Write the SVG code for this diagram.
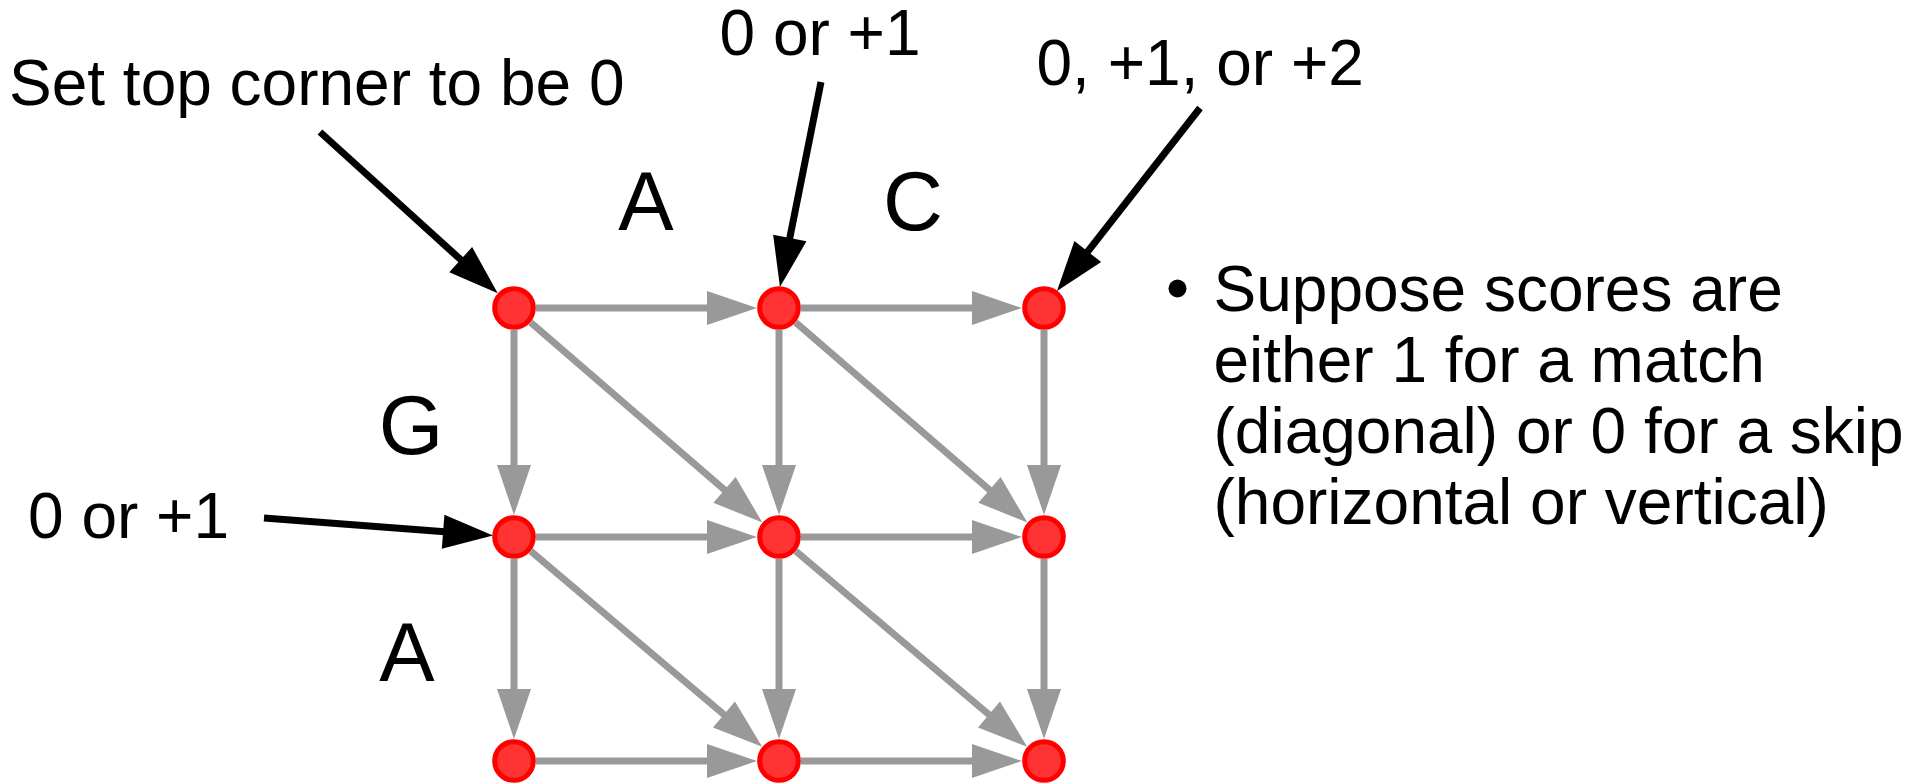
<svg xmlns="http://www.w3.org/2000/svg" width="1925" height="783" viewBox="0 0 1925 783">
<style>
.t{font-family:"Liberation Sans",Arial,sans-serif;font-size:64px;fill:#000}
.big{font-family:"Liberation Sans",Arial,sans-serif;font-size:83px;fill:#000;text-anchor:middle}
.e{stroke:#999999;stroke-width:7;fill:none;marker-end:url(#ga)}
.b{stroke:#000;stroke-width:7;fill:none;marker-end:url(#ba)}
.n{fill:#ff3333;stroke:#ff0000;stroke-width:5}
</style>
<defs>
<marker id="ga" markerUnits="userSpaceOnUse" markerWidth="50" markerHeight="34" refX="5" refY="17" orient="auto" overflow="visible">
<path d="M0,0 L50,17 L0,34 z" fill="#999999"/>
</marker>
<marker id="ba" markerUnits="userSpaceOnUse" markerWidth="50" markerHeight="34" refX="5" refY="17" orient="auto" overflow="visible">
<path d="M0,0 L50,17 L0,34 z" fill="#000"/>
</marker>
</defs>
<rect width="1925" height="783" fill="#fff"/>
<g id="connectors">
<line class="e" x1="536" y1="308" x2="712" y2="308"/>
<line class="e" x1="801" y1="308" x2="977" y2="308"/>
<line class="e" x1="536" y1="537" x2="712" y2="537"/>
<line class="e" x1="801" y1="537" x2="977" y2="537"/>
<line class="e" x1="536" y1="761" x2="712" y2="761"/>
<line class="e" x1="801" y1="761" x2="977" y2="761"/>
<line class="e" x1="514" y1="330" x2="514" y2="470"/>
<line class="e" x1="779" y1="330" x2="779" y2="470"/>
<line class="e" x1="1044" y1="330" x2="1044" y2="470"/>
<line class="e" x1="514" y1="559" x2="514" y2="694"/>
<line class="e" x1="779" y1="559" x2="779" y2="694"/>
<line class="e" x1="1044" y1="559" x2="1044" y2="694"/>
<line class="e" x1="530.6" y1="322.4" x2="728.3" y2="493.2"/>
<line class="e" x1="795.6" y1="322.4" x2="993.3" y2="493.2"/>
<line class="e" x1="530.8" y1="551.2" x2="727.8" y2="717.8"/>
<line class="e" x1="795.8" y1="551.2" x2="992.8" y2="717.8"/>
<line class="b" x1="320" y1="132" x2="464.4" y2="263"/>
<line class="b" x1="821" y1="82" x2="788.8" y2="242.9"/>
<line class="b" x1="1200" y1="108" x2="1084.7" y2="255.5"/>
<line class="b" x1="264" y1="518" x2="448.1" y2="532.1"/>
</g>
<g id="nodes">
<g id="n00"><circle class="n" cx="514" cy="308" r="19.3"/></g>
<g id="n01"><circle class="n" cx="779" cy="308" r="19.3"/></g>
<g id="n02"><circle class="n" cx="1044" cy="308" r="19.3"/></g>
<g id="n10"><circle class="n" cx="514" cy="537" r="19.3"/></g>
<g id="n11"><circle class="n" cx="779" cy="537" r="19.3"/></g>
<g id="n12"><circle class="n" cx="1044" cy="537" r="19.3"/></g>
<g id="n20"><circle class="n" cx="514" cy="761" r="19.3"/></g>
<g id="n21"><circle class="n" cx="779" cy="761" r="19.3"/></g>
<g id="n22"><circle class="n" cx="1044" cy="761" r="19.3"/></g>
</g>
<g id="labels">
<text class="t" x="9" y="105">Set top corner to be 0</text>
<text class="t" x="719.5" y="55">0 or +1</text>
<text class="t" x="1036.5" y="85">0, +1, or +2</text>
<text class="t" x="28" y="538">0 or +1</text>
<text class="big" x="646" y="230">A</text>
<text class="big" x="913" y="230">C</text>
<text class="big" x="411" y="454">G</text>
<text class="big" x="407" y="681">A</text>
</g>
<g id="notes">
<circle cx="1177.5" cy="288.5" r="9" fill="#000"/>
<text class="t" x="1213.5" y="310.5">Suppose scores are</text>
<text class="t" x="1213.5" y="381.7">either 1 for a match</text>
<text class="t" x="1213.5" y="452.9">(diagonal) or 0 for a skip</text>
<text class="t" x="1213.5" y="524.1">(horizontal or vertical)</text>
</g>
</svg>
